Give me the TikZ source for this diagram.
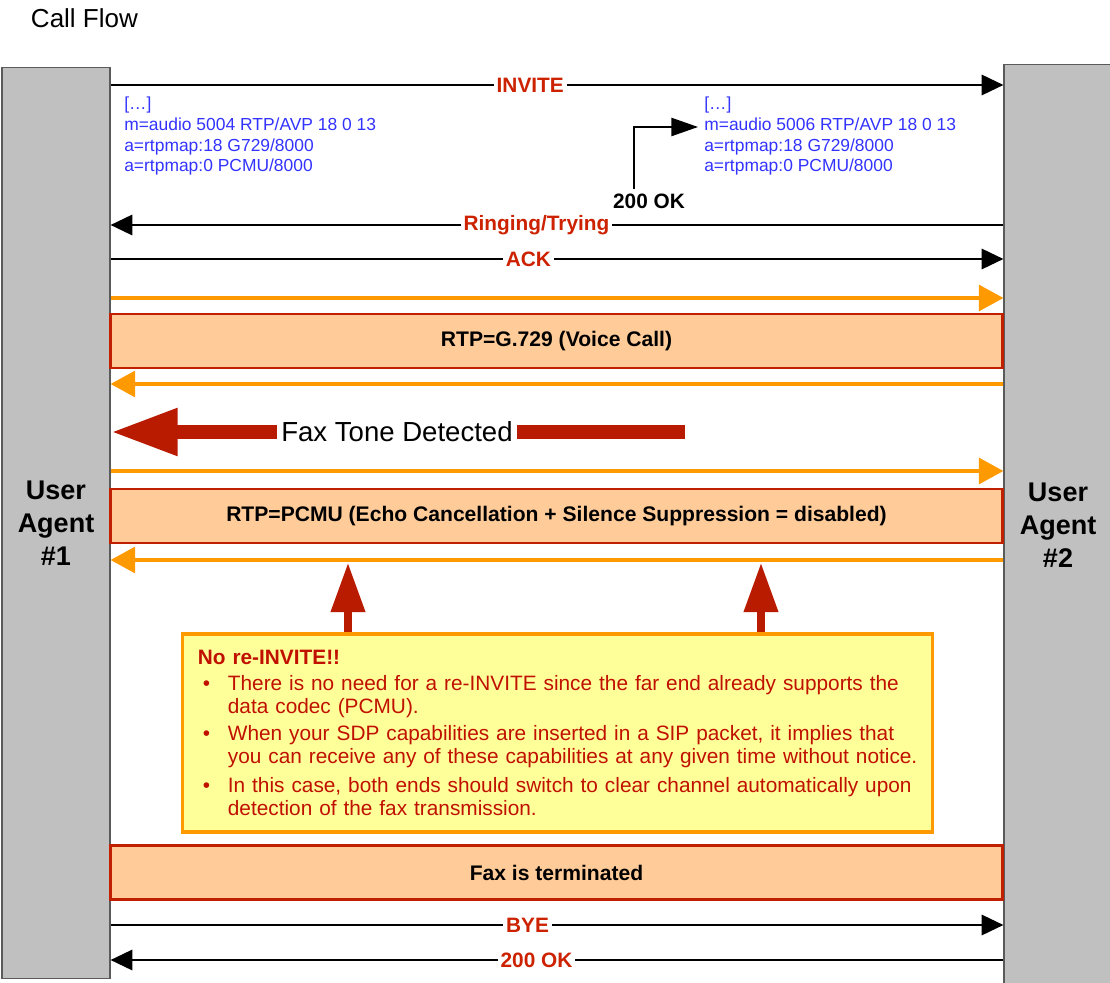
\documentclass[tikz,border=0pt]{standalone}
\usepackage{fontspec}
\setmainfont{Liberation Sans}
\usepackage{xcolor}
\usetikzlibrary{arrows.meta, positioning, calc}
\definecolor{lifegray}{RGB}{192,192,192}
\definecolor{lifeborder}{RGB}{90,90,90}
\definecolor{msgred}{RGB}{204,34,0}
\definecolor{sessionpeach}{RGB}{255,204,153}
\definecolor{sessionred}{RGB}{192,32,0}
\definecolor{rtporange}{RGB}{255,153,0}
\definecolor{faxred}{RGB}{185,27,0}
\definecolor{notered}{RGB}{192,16,0}
\definecolor{noteyellow}{RGB}{255,255,153}
\definecolor{sdpblue}{RGB}{51,51,255}
\tikzstyle{agent} = [rectangle, draw=lifeborder, line width=0.8pt, fill=lifegray, minimum width=2.7cm, align=center, font=\bfseries\fontsize{19.2}{23.5}\selectfont]
\tikzstyle{session} = [rectangle, draw=sessionred, line width=2pt, fill=sessionpeach, minimum width=22.275cm, minimum height=1.35cm, font=\bfseries\fontsize{15}{18}\selectfont]
\tikzstyle{msg} = [line width=1.5pt, -{Triangle[length=15.5pt,width=14.5pt]}]
\tikzstyle{lbl} = [fill=white, text=msgred, inner xsep=2pt, inner ysep=1pt, font=\bfseries\fontsize{14.8}{17}\selectfont]
\tikzstyle{rtp} = [draw=rtporange, line width=2.2pt, -{Triangle[length=17.5pt,width=18.5pt]}]
\tikzstyle{sdp} = [anchor=north west, inner sep=0pt, align=left, text=sdpblue, font=\fontsize{12.4}{14.7}\selectfont]
\tikzstyle{faxarrow} = [draw=faxred, line width=10pt, -{Triangle[length=1.675cm,width=1.1cm]}]
\tikzstyle{bigarrow} = [draw=faxred, line width=5pt, -{Triangle[length=1.225cm,width=0.825cm]}]
\tikzstyle{notebox} = [rectangle, draw=rtporange, line width=2.2pt, fill=noteyellow, minimum width=18.725cm, minimum height=4.95cm, text width=18.3cm, inner xsep=0.2125cm, align=left, text=notered, font=\fontsize{14.8}{16.4}\selectfont]

\begin{document}
\begin{tikzpicture}[x=0.025cm, y=-0.025cm]
\useasboundingbox (0,0) rectangle (1110,983);

% ===== TITLE =====
\node (title) [anchor=west, font=\fontsize{18.5}{22}\selectfont] at (26,18) {Call Flow};

% ===== USER AGENTS =====
\node (ua1) [agent, minimum height=22.75cm] at (56,523) {User\\Agent\\\#1};
\node (ua2) [agent, minimum height=23cm] at (1058,525) {User\\Agent\\\#2};

% ===== SIGNALLING =====
\draw [msg] (ua1.east |- 0,85) -- (ua2.west |- 0,85) node (invite) [lbl, pos=0.47] {INVITE};
\node (sdp_offer) [sdp] at (124,97) {[…]\\m=audio 5004 RTP/AVP 18 0 13\\a=rtpmap:18 G729/8000\\a=rtpmap:0 PCMU/8000};
\node (sdp_answer) [sdp] at (704,97) {[…]\\m=audio 5006 RTP/AVP 18 0 13\\a=rtpmap:18 G729/8000\\a=rtpmap:0 PCMU/8000};
\node (ok_one) [font=\bfseries\fontsize{14.8}{17}\selectfont] at (649,201) {200 OK};
\coordinate (sdp_in) at (698,127);
\draw [line width=1.2pt, -{Triangle[length=19pt,width=13pt]}] ([xshift=-0.375cm]ok_one.north) |- (sdp_in);
\draw [msg] (ua2.west |- 0,225) -- (ua1.east |- 0,225) node (ringing) [lbl, pos=0.523] {Ringing/Trying};
\draw [msg] (ua1.east |- 0,259) -- (ua2.west |- 0,259) node (ack) [lbl, pos=0.468] {ACK};

% ===== VOICE CALL =====
\draw [rtp] (ua1.east |- 0,298) -- (ua2.west |- 0,298);
\node (voice) [session] at (556.5,341) {RTP=G.729 (Voice Call)};
\draw [rtp] (ua2.west |- 0,384) -- (ua1.east |- 0,384);

% ===== FAX TONE =====
\coordinate (tone_start) at (685,432);
\draw [faxarrow] (tone_start) -- (ua1.east |- tone_start);
\node (tone) [fill=white, inner xsep=3pt, font=\fontsize{19.6}{23}\selectfont] at (397,432) {Fax Tone Detected};

% ===== CLEAR CHANNEL =====
\draw [rtp] (ua1.east |- 0,471) -- (ua2.west |- 0,471);
\node (clear) [session] at (556.5,516) {RTP=PCMU (Echo Cancellation + Silence Suppression = disabled)};
\draw [rtp] (ua2.west |- 0,560) -- (ua1.east |- 0,560);

% ===== NOTE =====
\node (note) [notebox] at (557.5,733) {\hspace*{0.1625cm}\textbf{No re-INVITE!!}\\[2pt]
\hspace*{0.2875cm}\makebox[0.625cm][l]{•}There is no need for a re-INVITE since the far end already supports the\\
\hspace*{0.9125cm}data codec (PCMU).\\[3pt]
\hspace*{0.2875cm}\makebox[0.625cm][l]{•}When your SDP capabilities are inserted in a SIP packet, it implies that\\
\hspace*{0.9125cm}you can receive any of these capabilities at any given time without notice.\\[4pt]
\hspace*{0.2875cm}\makebox[0.625cm][l]{•}In this case, both ends should switch to clear channel automatically upon\\
\hspace*{0.9125cm}detection of the fax transmission.};
\coordinate (hit_left) at (348,563);
\coordinate (hit_right) at (761,563);
\draw [bigarrow] (note.north -| hit_left) -- (hit_left);
\draw [bigarrow] (note.north -| hit_right) -- (hit_right);

% ===== TEARDOWN =====
\node (fax_end) [session] at (556.5,872.5) {Fax is terminated};
\draw [msg] (ua1.east |- 0,925) -- (ua2.west |- 0,925) node (bye) [lbl, pos=0.467] {BYE};
\draw [msg] (ua2.west |- 0,960) -- (ua1.east |- 0,960) node (ok_two) [lbl, pos=0.523] {200 OK};

\end{tikzpicture}
\end{document}
